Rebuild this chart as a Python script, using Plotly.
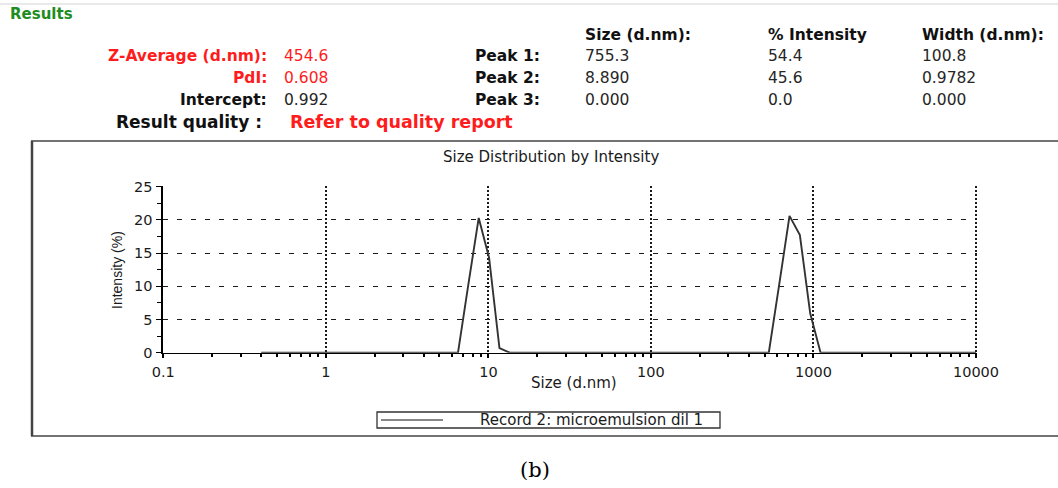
import plotly.graph_objects as go

# ---- DLS size distribution (intensity weighted), 70 log-spaced bins ----
sizes_nm = [
    0.4, 0.4632, 0.5365, 0.6213, 0.7195, 0.8332, 0.9649, 1.117, 1.294, 1.499,
    1.736, 2.01, 2.328, 2.696, 3.122, 3.615, 4.187, 4.849, 5.615, 6.503,
    7.531, 8.721, 10.1, 11.7, 13.54, 15.69, 18.17, 21.04, 24.36, 28.21,
    32.67, 37.84, 43.82, 50.75, 58.77, 68.06, 78.82, 91.28, 105.7, 122.4,
    141.8, 164.2, 190.1, 220.2, 255.0, 295.3, 342.0, 396.1, 458.7, 531.2,
    615.1, 712.4, 825.0, 955.4, 1106, 1281, 1484, 1718, 1990, 2305,
    2669, 3091, 3580, 4145, 4801, 5560, 6439, 7456, 8635, 10000,
]
intensity_pct = [
    0, 0, 0, 0, 0, 0, 0, 0, 0, 0,
    0, 0, 0, 0, 0, 0, 0, 0, 0, 0,
    10.3, 20.3, 14.3, 0.7, 0, 0, 0, 0, 0, 0,
    0, 0, 0, 0, 0, 0, 0, 0, 0, 0,
    0, 0, 0, 0, 0, 0, 0, 0, 0, 0,
    10.2, 20.6, 17.7, 5.9, 0, 0, 0, 0, 0, 0,
    0, 0, 0, 0, 0, 0, 0, 0, 0, 0,
]

x_tick_values = [0.1, 1, 10, 100, 1000, 10000]
x_tick_labels = ["0.1", "1", "10", "100", "1000", "10000"]
y_tick_values = [0, 5, 10, 15, 20, 25]

# ---- results summary ----
z_average = "454.6"
pdi = "0.608"
intercept = "0.992"
quality_note = "Refer to quality report"
peak_names = ["Peak 1:", "Peak 2:", "Peak 3:"]
peak_size = ["755.3", "8.890", "0.000"]
peak_intensity = ["54.4", "45.6", "0.0"]
peak_width = ["100.8", "0.9782", "0.000"]
column_heads = ["Size (d.nm):", "% Intensity", "Width (d.nm):"]
record_name = "Record 2: microemulsion dil 1"

W, H = 1058, 488
SANS = "DejaVu Sans"
RED = "#ff1c1c"
INK = "#111111"
VAL = "#262626"


def fx(x):
    return x / W


def fy(y):
    return 1 - y / H


annotations = []


def put(text, x, y, anchor="left", size=15, color=INK, weight="normal",
        family=SANS, angle=0):
    annotations.append(dict(
        text=text, x=fx(x), y=fy(y), xref="paper", yref="paper",
        xanchor=anchor, yanchor="middle", showarrow=False, textangle=angle,
        font=dict(family=family, size=size, color=color, weight=weight),
    ))


# header block
put("Results", 8, 14, size=15, color="#1e8c1e", weight="bold")
put("Z-Average (d.nm):", 269, 56, "right", 15.5, RED, "bold")
put(z_average, 282, 56, size=15.5, color=RED)
put("PdI:", 269, 78, "right", 15.5, RED, "bold")
put(pdi, 282, 78, size=15.5, color=RED)
put("Intercept:", 269, 100, "right", 15.5, INK, "bold")
put(intercept, 282, 100, size=15.5, color=VAL)
put("Result quality :", 264, 122, "right", 17, INK, "bold")
put(quality_note, 288, 122, size=17.5, color=RED, weight="bold")

col_x = [583, 766, 920]
row_y = [56, 78, 100]
for cx, head in zip(col_x, column_heads):
    put(head, cx, 35, size=15.5, color=INK, weight="bold")
for i, ry in enumerate(row_y):
    put(peak_names[i], 542, ry, "right", 15.5, INK, "bold")
    put(peak_size[i], col_x[0], ry, size=15.5, color=VAL)
    put(peak_intensity[i], col_x[1], ry, size=15.5, color=VAL)
    put(peak_width[i], col_x[2], ry, size=15.5, color=VAL)

# chart texts
put("Size Distribution by Intensity", 551, 157, "center", 15, "#1a1a1a")
put("Size (d.nm)", 574, 383, "center", 15, "#1a1a1a")
put("Intensity (%)", 117, 270, "center", 14, "#1a1a1a",
    family="Liberation Sans Narrow, Liberation Sans", angle=-90)
put(record_name, 591, 420, "center", 15, "#1a1a1a")
put("(b)", 535, 470, "center", 21, "#000000", family="DejaVu Serif")

FRAME = "#444444"
shapes = [
    # faint rule along the very top
    dict(type="line", xref="paper", yref="paper", x0=0, x1=1,
         y0=fy(4), y1=fy(4), line=dict(color="#d4d4d4", width=1)),
    # frame around the chart panel, running on past the right edge
    dict(type="line", xref="paper", yref="paper", x0=fx(31), x1=1,
         y0=fy(141), y1=fy(141), line=dict(color=FRAME, width=1.5)),
    dict(type="line", xref="paper", yref="paper", x0=fx(31), x1=1,
         y0=fy(436), y1=fy(436), line=dict(color=FRAME, width=1.5)),
    dict(type="line", xref="paper", yref="paper", x0=fx(32), x1=fx(32),
         y0=fy(436), y1=fy(141), line=dict(color=FRAME, width=2.5)),
    # legend box and its line sample
    dict(type="rect", xref="paper", yref="paper", x0=fx(377), x1=fx(720),
         y0=fy(428), y1=fy(412), line=dict(color="#333333", width=1.3)),
    dict(type="line", xref="paper", yref="paper", x0=fx(381), x1=fx(443),
         y0=fy(420), y1=fy(420), line=dict(color="#111111", width=1.2)),
]

fig = go.Figure(go.Scatter(
    x=sizes_nm, y=intensity_pct, mode="lines", name=record_name,
    line=dict(color="#333333", width=1.9), showlegend=False,
))

minor_x = [m * 10 ** e for e in range(-1, 4) for m in range(2, 10)]

# ranges reach just past 25 / 10000 so the edge grid lines are still drawn;
# margins stay fixed at zero so paper coordinates equal page pixels
fig.update_layout(
    width=W, height=H,
    margin=dict(l=0, r=0, t=0, b=0, autoexpand=False),
    paper_bgcolor="white", plot_bgcolor="white",
    annotations=annotations, shapes=shapes, showlegend=False,
    xaxis=dict(
        type="log", range=[-1, 4.008], domain=[fx(163.3), fx(977.3)],
        automargin=False,
        tickmode="array", tickvals=x_tick_values, ticktext=x_tick_labels,
        ticks="outside", ticklen=4, tickcolor="#000", tickwidth=1.5,
        showline=True, linecolor="#000", linewidth=1.2,
        showgrid=True, gridcolor="#1a1a1a", gridwidth=1.5, griddash="2px,2px",
        zeroline=False,
        minor=dict(tickmode="array", tickvals=minor_x, ticks="outside",
                   ticklen=3, tickcolor="#000", tickwidth=1.5, showgrid=False),
        tickfont=dict(family=SANS, size=14.5, color="#1a1a1a"),
        ticklabelstandoff=2,
    ),
    yaxis=dict(
        range=[0, 25.15], domain=[fy(352.7), fy(185.7)],
        automargin=False,
        tickmode="array", tickvals=y_tick_values,
        ticks="outside", ticklen=5, tickcolor="#000", tickwidth=1.2,
        showline=True, linecolor="#000", linewidth=2,
        showgrid=True, gridcolor="#1a1a1a", gridwidth=1, griddash="5px,9px",
        zeroline=False,
        minor=dict(tickmode="array", tickvals=[2.5, 7.5, 12.5, 17.5, 22.5],
                   ticks="outside", ticklen=4, tickcolor="#000", tickwidth=1,
                   showgrid=False),
        tickfont=dict(family=SANS, size=14.5, color="#1a1a1a"),
        ticklabelstandoff=1,
    ),
)

fig.write_html("out.html")
